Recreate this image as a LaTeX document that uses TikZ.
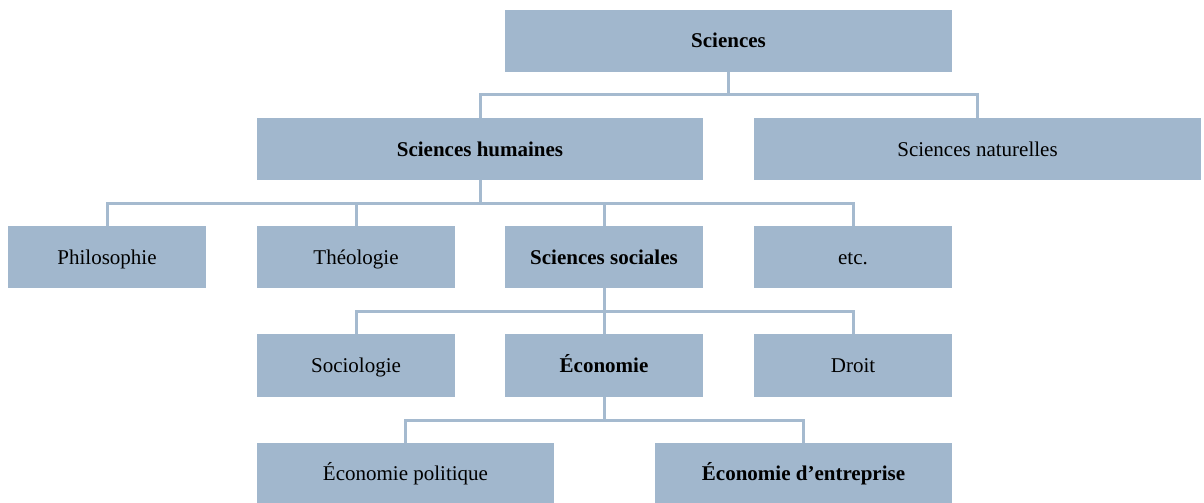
\documentclass[tikz,border=0pt]{standalone}
\usepackage{fontspec}
\setmainfont{Liberation Serif}
\definecolor{boxc}{HTML}{A1B7CD}
\definecolor{linec}{HTML}{A5BACF}
\begin{document}
\begin{tikzpicture}[x=1pt,y=-1pt,
  box/.style={fill=boxc,draw=none,inner sep=0pt,outer sep=0pt,minimum height=62pt,
    font=\fontsize{21}{25}\selectfont,text=black,text height=16pt,text depth=2pt},
  conn/.style={draw=linec,line width=3pt}]
\useasboundingbox[fill=white] (0,0) rectangle (1204,503);
\node[box,minimum width=447pt] (sci) at (728.5,41) {\textbf{Sciences}};
\node[box,minimum width=446pt] (hum) at (480,149) {\textbf{Sciences humaines}};
\node[box,minimum width=447pt] (nat) at (977.5,149) {Sciences naturelles};
\node[box,minimum width=198pt] (phil) at (107,257) {Philosophie};
\node[box,minimum width=198pt] (theo) at (356,257) {Théologie};
\node[box,minimum width=198pt] (soc) at (604,257) {\textbf{Sciences sociales}};
\node[box,minimum width=198pt] (etc) at (853,257) {etc.};
\node[box,minimum width=198pt,minimum height=63pt] (sociol) at (356,365.5) {Sociologie};
\node[box,minimum width=198pt,minimum height=63pt] (eco) at (604,365.5) {\textbf{Économie}};
\node[box,minimum width=198pt,minimum height=63pt] (droit) at (853,365.5) {Droit};
\node[box,minimum width=297pt,minimum height=60pt] (ecopol) at (405.5,473) {Économie politique};
\node[box,minimum width=297pt,minimum height=60pt] (ecoent) at (803.5,473) {\textbf{Économie d’entreprise}};
\foreach \c in {hum,nat} \draw[conn] (sci.south) -- ++(0,22) -| (\c.north);
\foreach \c in {phil,theo,soc,etc} \draw[conn] (hum.south) -- ++(0,23) -| (\c.north);
\foreach \c in {sociol,eco,droit} \draw[conn] (soc.south) -- ++(0,23) -| (\c.north);
\foreach \c in {ecopol,ecoent} \draw[conn] (eco.south) -- ++(0,23) -| (\c.north);
\end{tikzpicture}
\end{document}
